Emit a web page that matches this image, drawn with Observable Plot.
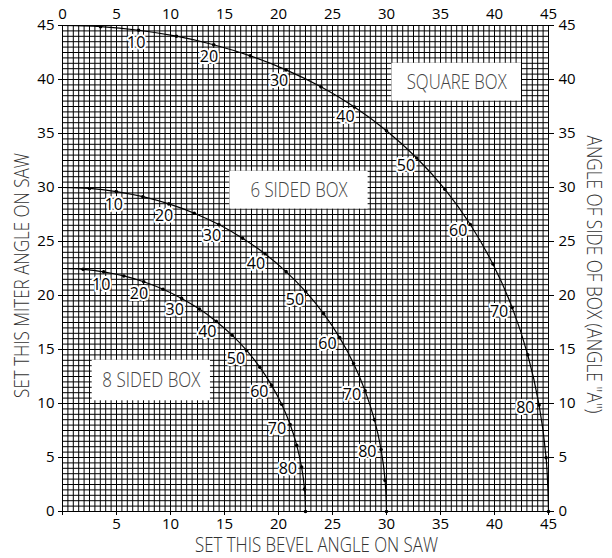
<!DOCTYPE html>
<html><head><meta charset="utf-8">
<script src="https://cdn.jsdelivr.net/npm/d3@7"></script>
<script src="https://cdn.jsdelivr.net/npm/@observablehq/plot@0.6"></script>
<style>body{margin:0;background:#fff} svg{display:block}</style>
</head><body><div id="chart"></div>
<script>
// Angle of side of box (angle "A"), one dot every 5 degrees
const sideAngles = [0,5,10,15,20,25,30,35,40,45,50,55,60,65,70,75,80,85,90];
// Square box
const squareBevel = [0,3.53,7.05,10.55,14.00,17.39,20.70,23.93,27.03,30.00,32.80,35.40,37.76,39.85,41.64,43.08,44.13,44.78,45];
const squareMiter = [45,44.89,44.56,44.01,43.22,42.19,40.89,39.32,37.45,35.26,32.73,29.84,26.57,22.91,18.88,14.51,9.85,4.98,0];
// 6 sided box
const sixBevel = [0,2.50,4.98,7.44,9.85,12.20,14.48,16.67,18.75,20.70,22.52,24.18,25.66,26.95,28.02,28.88,29.50,29.87,30];
const sixMiter = [30,29.91,29.62,29.15,28.48,27.62,26.57,25.31,23.86,22.21,20.36,18.32,16.10,13.71,11.17,8.50,5.73,2.88,0];
// 8 sided box
const eightBevel = [0,1.91,3.81,5.68,7.52,9.31,11.03,12.68,14.24,15.70,17.05,18.27,19.35,20.29,21.08,21.69,22.14,22.41,22.5];
const eightMiter = [22.5,22.42,22.19,21.81,21.27,20.58,19.73,18.74,17.60,16.33,14.91,13.36,11.70,9.93,8.06,6.12,4.11,2.07,0];

const labelAngles = [10,20,30,40,50,60,70,80];
const xTicks = [0,5,10,15,20,25,30,35,40,45];
const yTicks = [0,5,10,15,20,25,30,35,40,45];
const boxNames = ["SQUARE BOX","6 SIDED BOX","8 SIDED BOX"];
const xTitle = "SET THIS BEVEL ANGLE ON SAW";
const yTitle = "SET THIS MITER ANGLE ON SAW";
const y2Title = "ANGLE OF SIDE OF BOX (ANGLE \"A\")";

const curves = [
  {name: boxNames[0], bevel: squareBevel, miter: squareMiter},
  {name: boxNames[1], bevel: sixBevel, miter: sixMiter},
  {name: boxNames[2], bevel: eightBevel, miter: eightMiter}
];
const points = curves.flatMap(c => sideAngles.map((a, i) => ({box: c.name, a, x: c.bevel[i], y: c.miter[i]})));
const labels = points.filter(p => labelAngles.includes(p.a));

// annotation boxes (data units)
const boxes = [
  {name: boxNames[0], x1: 30.5, x2: 42.5, y1: 38, y2: 41.5},
  {name: boxNames[1], x1: 15.5, x2: 28.3, y1: 28, y2: 31.5},
  {name: boxNames[2], x1: 2.75, x2: 13.7, y1: 10.25, y2: 14}
];
const gridVals = d3.range(0, 45.001, 0.5);
const font = "'Open Sans', 'Noto Sans', sans-serif";
const titleStyle = {text: d => d, fontSize: 20, fontWeight: 300, fill: "#333", textAnchor: "middle", lineAnchor: "middle"};

const chart = Plot.plot({
  width: 612, height: 558,
  marginLeft: 62, marginRight: 64, marginTop: 25, marginBottom: 47,
  x: {domain: [0, 45]},
  y: {domain: [0, 45]},
  style: {fontFamily: font, fontSize: "14px", background: "#fff", color: "#000", overflow: "visible"},
  marks: [
    Plot.ruleX(gridVals, {stroke: "#000", strokeOpacity: 1, strokeWidth: 1}),
    Plot.ruleY(gridVals, {stroke: "#000", strokeOpacity: 1, strokeWidth: 1}),
    Plot.rect(boxes, {x1: "x1", x2: "x2", y1: "y1", y2: "y2", fill: "#fff"}),
    Plot.line(points, {x: "x", y: "y", z: "box", stroke: "#000", strokeWidth: 1.2, curve: "catmull-rom"}),
    Plot.dot(points.filter(p => p.a > 0), {x: "x", y: "y", r: 1.8, fill: "#000"}),
    ...labels.map(p => Plot.text([p], {
      x: "x", y: "y", text: d => String(d.a),
      dx: -14 * Math.sin(p.a * Math.PI / 180),
      dy: 13 * Math.cos(p.a * Math.PI / 180),
      fontSize: 16, fill: "#000", stroke: "#fff", strokeWidth: 4, paintOrder: "stroke"
    })),
    Plot.text(boxes, {x: d => (d.x1 + d.x2) / 2, y: d => (d.y1 + d.y2) / 2, text: "name",
      fontSize: 21, fontWeight: 300, fill: "#444"}),
    Plot.axisX({anchor: "top", ticks: xTicks, tickSize: 0, tickPadding: 7, label: null, fontSize: 15}),
    Plot.axisX({anchor: "bottom", ticks: xTicks, tickSize: 4, tickPadding: 3, label: null, fontSize: 15,
      tickFormat: d => d === 0 ? "" : String(d)}),
    Plot.axisY({anchor: "left", ticks: yTicks, tickSize: 4, tickPadding: 4, label: null, fontSize: 15}),
    Plot.axisY({anchor: "right", ticks: yTicks, tickSize: 5, tickPadding: 5, label: null, fontSize: 15}),
    Plot.text([xTitle], {...titleStyle, frameAnchor: "bottom", dx: 11, dy: 34}),
    Plot.text([yTitle], {...titleStyle, frameAnchor: "left", rotate: -90, dx: -40, dy: 7}),
    Plot.text([y2Title], {...titleStyle, frameAnchor: "right", rotate: 90, dx: 45, dy: 6})
  ]
});
document.getElementById("chart").appendChild(chart);

// condense the title / box texts to the reference's narrow type (horizontal scale about the anchor)
const lengths = new Map([[xTitle, 243], [yTitle, 245], [y2Title, 278], [boxNames[0], 100], [boxNames[1], 97], [boxNames[2], 98]]);
chart.querySelectorAll("text").forEach(el => {
  const t = el.textContent.trim();
  if (!lengths.has(t)) return;
  const w = el.getComputedTextLength();
  if (!(w > 0)) return;
  const k = lengths.get(t) / w;
  const x = parseFloat(el.getAttribute("x")) || 0;
  const tr = el.getAttribute("transform") || "";
  el.setAttribute("x", 0);
  el.querySelectorAll("tspan").forEach(s => s.setAttribute("x", 0));
  el.setAttribute("transform", `${tr} translate(${x},0) scale(${k},1)`);
});
</script>
</body></html>
